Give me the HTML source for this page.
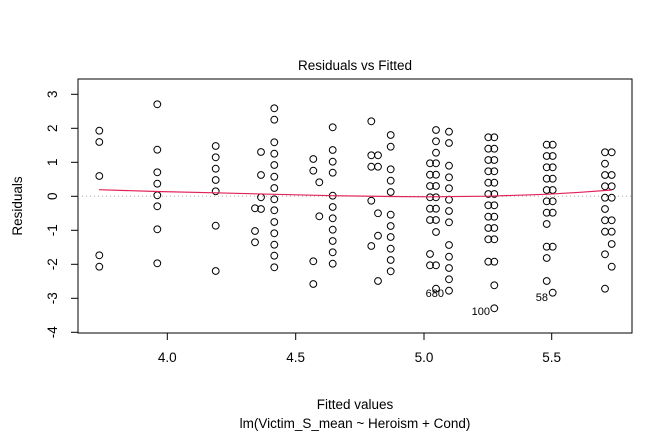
<!DOCTYPE html>
<html><head><style>body{margin:0;background:#fff}svg{display:block}text{font-family:"Liberation Sans",Arial,sans-serif;fill:#000}</style></head>
<body>
<svg width="672" height="432" viewBox="0 0 672 432" xmlns="http://www.w3.org/2000/svg">
<rect x="78" y="79" width="554" height="254" fill="none" stroke="#000" stroke-width="1"/>
<line x1="78" y1="196.3" x2="632" y2="196.3" stroke="#aaa" stroke-dasharray="1,3"/>
<g stroke="#000">
<line x1="167.3" y1="333" x2="551.7" y2="333"/>
<line x1="167.3" y1="333" x2="167.3" y2="340"/><line x1="295.7" y1="333" x2="295.7" y2="340"/><line x1="424" y1="333" x2="424" y2="340"/><line x1="551.7" y1="333" x2="551.7" y2="340"/>
<line x1="71" y1="94.3" x2="78" y2="94.3"/><line x1="71" y1="128.3" x2="78" y2="128.3"/><line x1="71" y1="162.3" x2="78" y2="162.3"/><line x1="71" y1="196.3" x2="78" y2="196.3"/><line x1="71" y1="230.3" x2="78" y2="230.3"/><line x1="71" y1="264.3" x2="78" y2="264.3"/><line x1="71" y1="298.3" x2="78" y2="298.3"/><line x1="71" y1="332.3" x2="78" y2="332.3"/>
</g>
<g font-size="13.5" text-anchor="middle">
<text x="167.3" y="362">4.0</text><text x="295.7" y="362">4.5</text><text x="424" y="362">5.0</text><text x="551.7" y="362">5.5</text>
<text transform="translate(57,94.3) rotate(-90)">3</text>
<text transform="translate(57,128.3) rotate(-90)">2</text>
<text transform="translate(57,162.3) rotate(-90)">1</text>
<text transform="translate(57,196.3) rotate(-90)">0</text>
<text transform="translate(57,230.3) rotate(-90)">-1</text>
<text transform="translate(57,264.3) rotate(-90)">-2</text>
<text transform="translate(57,298.3) rotate(-90)">-3</text>
<text transform="translate(57,332.3) rotate(-90)">-4</text>
<text x="355" y="70">Residuals vs Fitted</text>
<text x="355" y="409">Fitted values</text>
<text x="355" y="428">lm(Victim_S_mean ~ Heroism + Cond)</text>
<text transform="translate(22,206) rotate(-90)">Residuals</text>
</g>
<g font-size="11" text-anchor="end">
<text x="444" y="297">680</text><text x="490" y="315">100</text><text x="548" y="301">58</text>
</g>
<g fill="none" stroke="#000" stroke-width="1">
<circle cx="99.3" cy="130.7" r="3.4"/><circle cx="99.3" cy="142" r="3.4"/><circle cx="99.3" cy="176" r="3.4"/><circle cx="99.3" cy="255.3" r="3.4"/><circle cx="99.3" cy="266.7" r="3.4"/>
<circle cx="157.3" cy="104.3" r="3.4"/><circle cx="157.3" cy="149.7" r="3.4"/><circle cx="157.3" cy="172.3" r="3.4"/><circle cx="157.3" cy="183.7" r="3.4"/><circle cx="157.3" cy="195.3" r="3.4"/><circle cx="157.3" cy="206.3" r="3.4"/><circle cx="157.3" cy="229.3" r="3.4"/><circle cx="157.3" cy="263.3" r="3.4"/>
<circle cx="215.7" cy="146" r="3.4"/><circle cx="215.7" cy="157.3" r="3.4"/><circle cx="215.7" cy="168.7" r="3.4"/><circle cx="215.7" cy="180" r="3.4"/><circle cx="215.7" cy="191.3" r="3.4"/><circle cx="215.7" cy="225.7" r="3.4"/><circle cx="215.7" cy="271" r="3.4"/>
<circle cx="255" cy="208.3" r="3.4"/><circle cx="255" cy="231" r="3.4"/><circle cx="255" cy="242.3" r="3.4"/>
<circle cx="261" cy="152" r="3.4"/><circle cx="261" cy="175" r="3.4"/><circle cx="261" cy="197.3" r="3.4"/><circle cx="261" cy="209" r="3.4"/>
<circle cx="274.3" cy="108.3" r="3.4"/><circle cx="274.3" cy="119.7" r="3.4"/><circle cx="274.3" cy="142.3" r="3.4"/><circle cx="274.3" cy="153.7" r="3.4"/><circle cx="274.3" cy="165" r="3.4"/><circle cx="274.3" cy="176.7" r="3.4"/><circle cx="274.3" cy="188" r="3.4"/><circle cx="274.3" cy="199.3" r="3.4"/><circle cx="274.3" cy="210.3" r="3.4"/><circle cx="274.3" cy="222" r="3.4"/><circle cx="274.3" cy="233.3" r="3.4"/><circle cx="274.3" cy="244.7" r="3.4"/><circle cx="274.3" cy="255.7" r="3.4"/><circle cx="274.3" cy="267.3" r="3.4"/>
<circle cx="313.3" cy="159" r="3.4"/><circle cx="313.3" cy="170.7" r="3.4"/><circle cx="313.3" cy="261.3" r="3.4"/><circle cx="313.3" cy="284" r="3.4"/>
<circle cx="319.3" cy="182.3" r="3.4"/><circle cx="319.3" cy="216.3" r="3.4"/>
<circle cx="332.7" cy="127.3" r="3.4"/><circle cx="332.7" cy="150" r="3.4"/><circle cx="332.7" cy="161.7" r="3.4"/><circle cx="332.7" cy="172.7" r="3.4"/><circle cx="332.7" cy="195.7" r="3.4"/><circle cx="332.7" cy="207" r="3.4"/><circle cx="332.7" cy="218.3" r="3.4"/><circle cx="332.7" cy="229.7" r="3.4"/><circle cx="332.7" cy="241" r="3.4"/><circle cx="332.7" cy="252.3" r="3.4"/><circle cx="332.7" cy="263.7" r="3.4"/>
<circle cx="371.3" cy="121.3" r="3.4"/><circle cx="371.3" cy="155.3" r="3.4"/><circle cx="371.3" cy="166.7" r="3.4"/><circle cx="371.3" cy="200.7" r="3.4"/><circle cx="371.3" cy="246" r="3.4"/>
<circle cx="378" cy="155.3" r="3.4"/><circle cx="378" cy="166.7" r="3.4"/><circle cx="378" cy="213.3" r="3.4"/><circle cx="378" cy="235.7" r="3.4"/><circle cx="378" cy="281" r="3.4"/>
<circle cx="390.7" cy="135" r="3.4"/><circle cx="390.7" cy="146.7" r="3.4"/><circle cx="390.7" cy="169.3" r="3.4"/><circle cx="390.7" cy="180.7" r="3.4"/><circle cx="390.7" cy="192" r="3.4"/><circle cx="390.7" cy="214.7" r="3.4"/><circle cx="390.7" cy="226" r="3.4"/><circle cx="390.7" cy="237" r="3.4"/><circle cx="390.7" cy="248.7" r="3.4"/><circle cx="390.7" cy="260" r="3.4"/><circle cx="390.7" cy="271.3" r="3.4"/>
<circle cx="430" cy="163.3" r="3.4"/><circle cx="430" cy="174.7" r="3.4"/><circle cx="430" cy="186" r="3.4"/><circle cx="430" cy="197.3" r="3.4"/><circle cx="430" cy="208.7" r="3.4"/><circle cx="430" cy="220" r="3.4"/><circle cx="430" cy="254" r="3.4"/><circle cx="430" cy="265.3" r="3.4"/>
<circle cx="436" cy="130" r="3.4"/><circle cx="436" cy="141.3" r="3.4"/><circle cx="436" cy="152.7" r="3.4"/><circle cx="436" cy="163.3" r="3.4"/><circle cx="436" cy="174.7" r="3.4"/><circle cx="436" cy="186" r="3.4"/><circle cx="436" cy="197.3" r="3.4"/><circle cx="436" cy="208.7" r="3.4"/><circle cx="436" cy="220" r="3.4"/><circle cx="436" cy="232" r="3.4"/><circle cx="436" cy="265.3" r="3.4"/><circle cx="436" cy="288.7" r="3.4"/>
<circle cx="449" cy="131.7" r="3.4"/><circle cx="449" cy="143" r="3.4"/><circle cx="449" cy="165.7" r="3.4"/><circle cx="449" cy="177.3" r="3.4"/><circle cx="449" cy="188.3" r="3.4"/><circle cx="449" cy="199.7" r="3.4"/><circle cx="449" cy="211" r="3.4"/><circle cx="449" cy="222.3" r="3.4"/><circle cx="449" cy="245" r="3.4"/><circle cx="449" cy="256.7" r="3.4"/><circle cx="449" cy="268" r="3.4"/><circle cx="449" cy="279.3" r="3.4"/><circle cx="449" cy="290.7" r="3.4"/>
<circle cx="488.3" cy="137.3" r="3.4"/><circle cx="488.3" cy="148.7" r="3.4"/><circle cx="488.3" cy="160" r="3.4"/><circle cx="488.3" cy="171.3" r="3.4"/><circle cx="488.3" cy="182.7" r="3.4"/><circle cx="488.3" cy="194" r="3.4"/><circle cx="488.3" cy="205.3" r="3.4"/><circle cx="488.3" cy="216.7" r="3.4"/><circle cx="488.3" cy="228" r="3.4"/><circle cx="488.3" cy="239.3" r="3.4"/><circle cx="488.3" cy="261.7" r="3.4"/>
<circle cx="494.3" cy="137.3" r="3.4"/><circle cx="494.3" cy="148.7" r="3.4"/><circle cx="494.3" cy="160" r="3.4"/><circle cx="494.3" cy="171.3" r="3.4"/><circle cx="494.3" cy="182.7" r="3.4"/><circle cx="494.3" cy="194" r="3.4"/><circle cx="494.3" cy="205.3" r="3.4"/><circle cx="494.3" cy="216.7" r="3.4"/><circle cx="494.3" cy="228" r="3.4"/><circle cx="494.3" cy="239.3" r="3.4"/><circle cx="494.3" cy="261.7" r="3.4"/><circle cx="494.3" cy="285.3" r="3.4"/><circle cx="494.3" cy="308.3" r="3.4"/>
<circle cx="546.7" cy="144.7" r="3.4"/><circle cx="546.7" cy="156" r="3.4"/><circle cx="546.7" cy="167.3" r="3.4"/><circle cx="546.7" cy="178.7" r="3.4"/><circle cx="546.7" cy="190" r="3.4"/><circle cx="546.7" cy="201.3" r="3.4"/><circle cx="546.7" cy="212.7" r="3.4"/><circle cx="546.7" cy="224" r="3.4"/><circle cx="546.7" cy="246.7" r="3.4"/><circle cx="546.7" cy="258" r="3.4"/><circle cx="546.7" cy="281" r="3.4"/>
<circle cx="552.7" cy="144.7" r="3.4"/><circle cx="552.7" cy="156" r="3.4"/><circle cx="552.7" cy="167.3" r="3.4"/><circle cx="552.7" cy="178.7" r="3.4"/><circle cx="552.7" cy="190" r="3.4"/><circle cx="552.7" cy="201.3" r="3.4"/><circle cx="552.7" cy="212.7" r="3.4"/><circle cx="552.7" cy="246.7" r="3.4"/><circle cx="552.7" cy="292.7" r="3.4"/>
<circle cx="605" cy="152.3" r="3.4"/><circle cx="605" cy="163.7" r="3.4"/><circle cx="605" cy="175" r="3.4"/><circle cx="605" cy="186.3" r="3.4"/><circle cx="605" cy="197.7" r="3.4"/><circle cx="605" cy="209" r="3.4"/><circle cx="605" cy="220.3" r="3.4"/><circle cx="605" cy="231.7" r="3.4"/><circle cx="605" cy="254.3" r="3.4"/><circle cx="605" cy="288.7" r="3.4"/>
<circle cx="611.7" cy="152.3" r="3.4"/><circle cx="611.7" cy="175" r="3.4"/><circle cx="611.7" cy="186.3" r="3.4"/><circle cx="611.7" cy="197.7" r="3.4"/><circle cx="611.7" cy="220.3" r="3.4"/><circle cx="611.7" cy="231.7" r="3.4"/><circle cx="611.7" cy="244" r="3.4"/><circle cx="611.7" cy="266.7" r="3.4"/>
</g>
<polyline fill="none" stroke="#e0225a" stroke-width="1.2" points="99,189.7 157,191.5 215,192.8 274,194.3 333,195.7 390,196.5 430,196.8 488,196.2 546,194.3 580,192.3 612,190"/>
</svg>
</body></html>
